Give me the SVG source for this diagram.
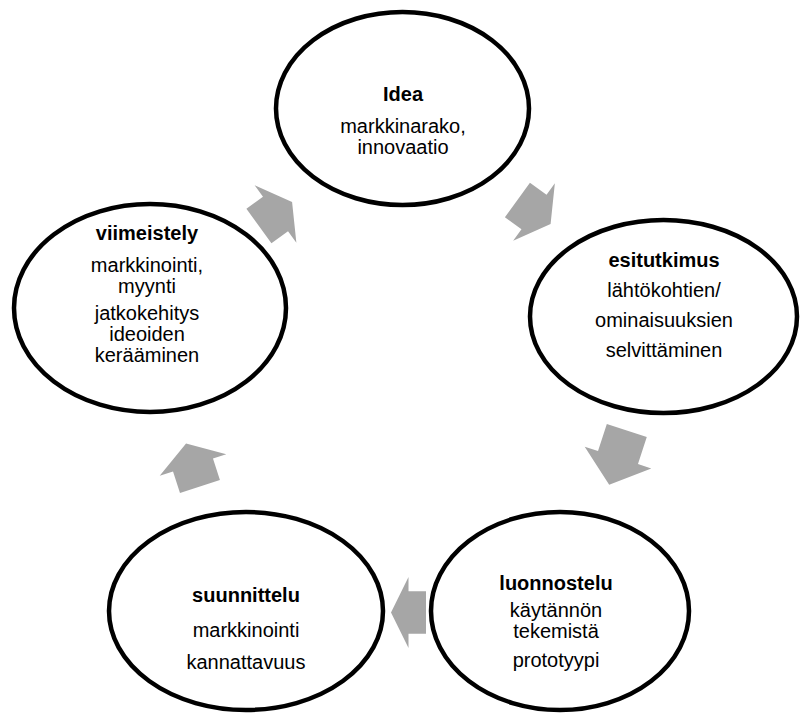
<svg xmlns="http://www.w3.org/2000/svg" width="803" height="718" viewBox="0 0 803 718">
<style>
.node ellipse{fill:#fff;stroke:#000;stroke-width:4.5}
.t{font-family:"Liberation Sans",Arial,sans-serif;font-size:20px;text-anchor:middle;fill:#000}
.b{font-weight:bold}
.arr{fill:#a6a6a6}
</style>
<rect width="803" height="718" fill="#fff"/>
<g id="connectors">
<polygon class="arr" transform="translate(275.5,214) rotate(-36)" points="-20.5,-21.3 0,-21.3 0,-35.5 20.5,0 0,35.5 0,21.3 -20.5,21.3"/>
<polygon class="arr" transform="translate(534,212) rotate(36)" points="-20.5,-21.3 0,-21.3 0,-35.5 20.5,0 0,35.5 0,21.3 -20.5,21.3"/>
<polygon class="arr" transform="translate(618,457.6) rotate(108)" points="-28.5,-21 0,-21 0,-35 28.5,0 0,35 0,21 -28.5,21"/>
<polygon class="arr" transform="translate(408.5,612.5) rotate(180)" points="-17.5,-21.3 0,-21.3 0,-35.5 17.5,0 0,35.5 0,21.3 -17.5,21.3"/>
<polygon class="arr" transform="translate(193,465) rotate(252)" points="-22.5,-21 0,-21 0,-35 22.5,0 0,35 0,21 -22.5,21"/>
</g>
<g id="idea" class="node">
<ellipse cx="402.5" cy="108.5" rx="126.5" ry="96.5"/>
<text class="t b" x="403" y="101">Idea</text>
<text class="t" x="403" y="133">markkinarako,</text>
<text class="t" x="403" y="154">innovaatio</text>
</g>
<g id="esitutkimus" class="node">
<ellipse cx="663.5" cy="316.5" rx="133.5" ry="96.5"/>
<text class="t b" x="664" y="267">esitutkimus</text>
<text class="t" x="664" y="297">lähtökohtien/</text>
<text class="t" x="664" y="327">ominaisuuksien</text>
<text class="t" x="664" y="357">selvittäminen</text>
</g>
<g id="luonnostelu" class="node">
<ellipse cx="560" cy="611" rx="129" ry="99"/>
<text class="t b" x="556" y="590">luonnostelu</text>
<text class="t" x="556" y="617">käytännön</text>
<text class="t" x="556" y="638">tekemistä</text>
<text class="t" x="556" y="667">prototyypi</text>
</g>
<g id="suunnittelu" class="node">
<ellipse cx="246" cy="611" rx="137" ry="99"/>
<text class="t b" x="246" y="602">suunnittelu</text>
<text class="t" x="246" y="637">markkinointi</text>
<text class="t" x="246" y="669">kannattavuus</text>
</g>
<g id="viimeistely" class="node">
<ellipse cx="150" cy="308" rx="136" ry="104"/>
<text class="t b" x="147" y="240">viimeistely</text>
<text class="t" x="147" y="272">markkinointi,</text>
<text class="t" x="147" y="293">myynti</text>
<text class="t" x="147" y="320">jatkokehitys</text>
<text class="t" x="147" y="341">ideoiden</text>
<text class="t" x="147" y="362">kerääminen</text>
</g>
</svg>
